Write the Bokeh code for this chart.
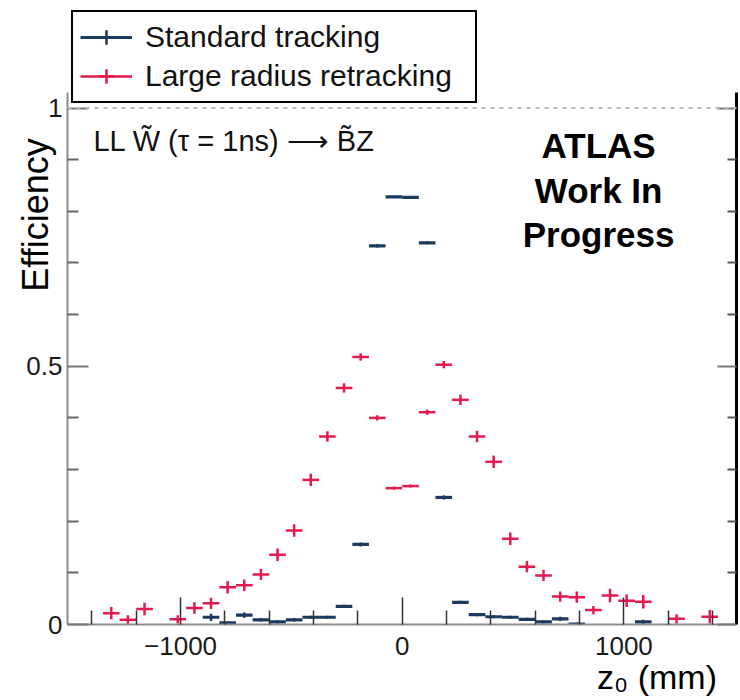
import math
from bokeh.plotting import figure
from bokeh.models import (Range1d, LinearAxis, FixedTicker, Span, Label,
                          Legend, LegendItem, ColumnDataSource)
from bokeh.embed import file_html
from bokeh.resources import INLINE

# ---------------- data ----------------
BIN_HALF_WIDTH = 37.5  # mm, bins are 75 mm wide

# Standard tracking (navy)
std_z = [-862.5, -787.5, -712.5, -637.5, -562.5, -487.5, -412.5, -337.5, -262.5,
         -187.5, -112.5, -37.5, 37.5, 112.5, 187.5, 262.5, 337.5, 412.5, 487.5,
         562.5, 637.5, 712.5, 787.5, 1087.5]
std_eff = [0.014, 0.003, 0.018, 0.009, 0.005, 0.009, 0.014, 0.014, 0.035,
           0.155, 0.733, 0.828, 0.827, 0.739, 0.246, 0.043, 0.019, 0.015, 0.014,
           0.010, 0.005, 0.011, 0.001, 0.005]
std_err = [0.007, 0.003, 0.005, 0.003, 0.003, 0.003, 0.003, 0.003, 0.003,
           0.004, 0.003, 0.002, 0.002, 0.003, 0.004, 0.003, 0.003, 0.003, 0.003,
           0.003, 0.003, 0.004, 0.003, 0.004]

# Large radius retracking (crimson)
lrt_z = [-1312.5, -1237.5, -1162.5, -1012.5, -937.5, -862.5, -787.5, -712.5,
         -637.5, -562.5, -487.5, -412.5, -337.5, -262.5, -187.5, -112.5, -37.5,
         37.5, 112.5, 187.5, 262.5, 337.5, 412.5, 487.5, 562.5, 637.5, 712.5,
         787.5, 862.5, 937.5, 1012.5, 1087.5, 1237.5, 1387.5]
lrt_eff = [0.022, 0.009, 0.030, 0.010, 0.032, 0.041, 0.072, 0.076,
           0.097, 0.135, 0.182, 0.280, 0.364, 0.458, 0.518, 0.400, 0.264,
           0.268, 0.411, 0.503, 0.435, 0.364, 0.315, 0.166, 0.112, 0.095, 0.054,
           0.053, 0.028, 0.056, 0.046, 0.044, 0.011, 0.015]
lrt_err = [0.012, 0.009, 0.012, 0.008, 0.011, 0.011, 0.012, 0.011,
           0.011, 0.012, 0.012, 0.012, 0.010, 0.009, 0.007, 0.005, 0.003,
           0.003, 0.005, 0.007, 0.010, 0.011, 0.012, 0.012, 0.011, 0.011, 0.010,
           0.011, 0.008, 0.013, 0.012, 0.013, 0.009, 0.013]

x_major_ticks = [-1000, 0, 1000]
x_minor_ticks = [-1400, -1200, -800, -600, -400, -200, 200, 400, 600, 800, 1200, 1400]
x_tick_labels = {-1000: "\u22121000", 0: "0", 1000: "1000"}
y_major_ticks = [0, 0.5, 1]
y_minor_ticks = [0.1, 0.2, 0.3, 0.4, 0.6, 0.7, 0.8, 0.9]
y_tick_labels = {0: "0", 0.5: "0.5", 1: "1"}
y_axis_extent = (0, 1.03)

STD_COLOR = "#1b3a5e"
LRT_COLOR = "#e31a4e"
FONT = "Liberation Sans"
NBSP = "\u00a0"  # non-breaking spaces shift the (always centred) axis titles


def make_source(z, eff, err):
    return ColumnDataSource(dict(
        z=z, eff=eff,
        lo=[v - BIN_HALF_WIDTH for v in z], hi=[v + BIN_HALF_WIDTH for v in z],
        elo=[e - d for e, d in zip(eff, err)], ehi=[e + d for e, d in zip(eff, err)],
    ))


std_src = make_source(std_z, std_eff, std_err)
lrt_src = make_source(lrt_z, lrt_eff, lrt_err)

# ---------------- figure ----------------
# frame reaches up to the top of the legend; axes are bounded to [0, 1.03]
p = figure(width=740, height=700, x_range=Range1d(-1510, 1508), y_range=Range1d(0, 1.1985),
           output_backend="svg", toolbar_location=None,
           min_border_left=67, min_border_right=4, min_border_top=5, min_border_bottom=76)
p.grid.visible = False
p.outline_line_color = None
p.background_fill_color = "white"
p.border_fill_color = "white"

# dotted line at efficiency 1
p.add_layout(Span(location=1, dimension="width", line_color="#b8b8b8",
                  line_width=2, line_dash="4 5"))

# red series
lrt_h = p.segment(x0="lo", y0="eff", x1="hi", y1="eff", source=lrt_src,
                  line_color=LRT_COLOR, line_width=2.5)
p.segment(x0="z", y0="elo", x1="z", y1="ehi", source=lrt_src,
          line_color=LRT_COLOR, line_width=2.5)
# blue series
std_h = p.segment(x0="lo", y0="eff", x1="hi", y1="eff", source=std_src,
                  line_color=STD_COLOR, line_width=3.2)
p.segment(x0="z", y0="elo", x1="z", y1="ehi", source=std_src,
          line_color=STD_COLOR, line_width=2.5)

# hidden cross markers: only used to draw the cross in the legend
std_leg = p.scatter(x="z", y="eff", source=std_src, marker="cross",
                    line_color=STD_COLOR, line_width=2.5, visible=False)
lrt_leg = p.scatter(x="z", y="eff", source=lrt_src, marker="cross",
                    line_color=LRT_COLOR, line_width=2.5, visible=False)

# ---------------- axes ----------------
xa = p.xaxis[0]
xa.ticker = FixedTicker(ticks=x_major_ticks, minor_ticks=x_minor_ticks)
xa.major_label_overrides = x_tick_labels
xa.axis_line_color = "#8c8c8c"
xa.axis_line_width = 2
xa.major_tick_line_color = "#333333"
xa.minor_tick_line_color = "#333333"
xa.major_tick_line_width = 1.5
xa.minor_tick_line_width = 1.5
xa.major_tick_in = 27
xa.major_tick_out = 0
xa.minor_tick_in = 14
xa.minor_tick_out = 0
xa.major_label_text_font = FONT
xa.major_label_text_font_size = "26px"
xa.major_label_text_color = "#1a1a1a"
xa.major_label_standoff = 12
xa.axis_label = NBSP * 54 + "z\u2080 (mm)"
xa.axis_label_text_font = FONT
xa.axis_label_text_font_size = "34px"
xa.axis_label_text_font_style = "normal"
xa.axis_label_text_color = "black"
xa.axis_label_standoff = 0

ya = p.yaxis[0]
ya.bounds = y_axis_extent
ya.ticker = FixedTicker(ticks=y_major_ticks, minor_ticks=y_minor_ticks)
ya.major_label_overrides = y_tick_labels
ya.axis_line_color = "#8c8c8c"
ya.axis_line_width = 2
ya.major_tick_line_color = "#777777"
ya.minor_tick_line_color = "#666666"
ya.major_tick_line_width = 2
ya.minor_tick_line_width = 2
ya.major_tick_in = 21
ya.major_tick_out = 0
ya.minor_tick_in = 11
ya.minor_tick_out = 0
ya.major_label_text_font = FONT
ya.major_label_text_font_size = "26px"
ya.major_label_text_color = "#1a1a1a"
ya.major_label_standoff = 5
ya.axis_label = NBSP * 20 + "Efficiency"
ya.axis_label_text_font = FONT
ya.axis_label_text_font_size = "36px"
ya.axis_label_text_font_style = "normal"
ya.axis_label_text_color = "black"
ya.axis_label_standoff = -33

ra = LinearAxis(ticker=FixedTicker(ticks=y_major_ticks, minor_ticks=y_minor_ticks),
                bounds=y_axis_extent)
ra.axis_line_color = "black"
ra.axis_line_width = 3
ra.major_tick_line_color = "#777777"
ra.minor_tick_line_color = "#555555"
ra.major_tick_line_width = 2
ra.minor_tick_line_width = 2
ra.major_tick_in = 19
ra.major_tick_out = 0
ra.minor_tick_in = 9
ra.minor_tick_out = 0
ra.major_label_text_font_size = "0px"
ra.major_label_text_color = None
ra.major_label_standoff = 0
p.add_layout(ra, "right")

# ---------------- texts inside the frame ----------------
p.add_layout(Label(x=-1393, y=0.937,
                   text="LL W\u0303 (\u03c4 = 1ns) \u27f6 B\u0303Z",
                   text_align="left", text_baseline="alphabetic", text_font=FONT,
                   text_font_size="29px", text_color="#111111"))

for txt, yy in [("ATLAS", 0.927), ("Work In", 0.840), ("Progress", 0.755)]:
    p.add_layout(Label(x=886, y=yy, text=txt, text_align="center",
                       text_baseline="alphabetic", text_font=FONT,
                       text_font_style="bold", text_font_size="35px",
                       text_color="black"))

# ---------------- legend ----------------
legend = Legend(items=[
    LegendItem(label="Standard tracking", renderers=[std_h, std_leg]),
    LegendItem(label="Large radius retracking", renderers=[lrt_h, lrt_leg]),
], location=(4, 521), border_line_color="black", border_line_width=2,
    border_line_alpha=1.0, background_fill_color="white", background_fill_alpha=1.0,
    label_text_font=FONT, label_text_font_size="30px", label_text_color="#111111",
    glyph_width=52, glyph_height=36, label_height=36, label_width=323,
    label_standoff=13, padding=7, spacing=3, margin=0)
p.add_layout(legend)

open("out.html", "w").write(file_html(p, INLINE))
